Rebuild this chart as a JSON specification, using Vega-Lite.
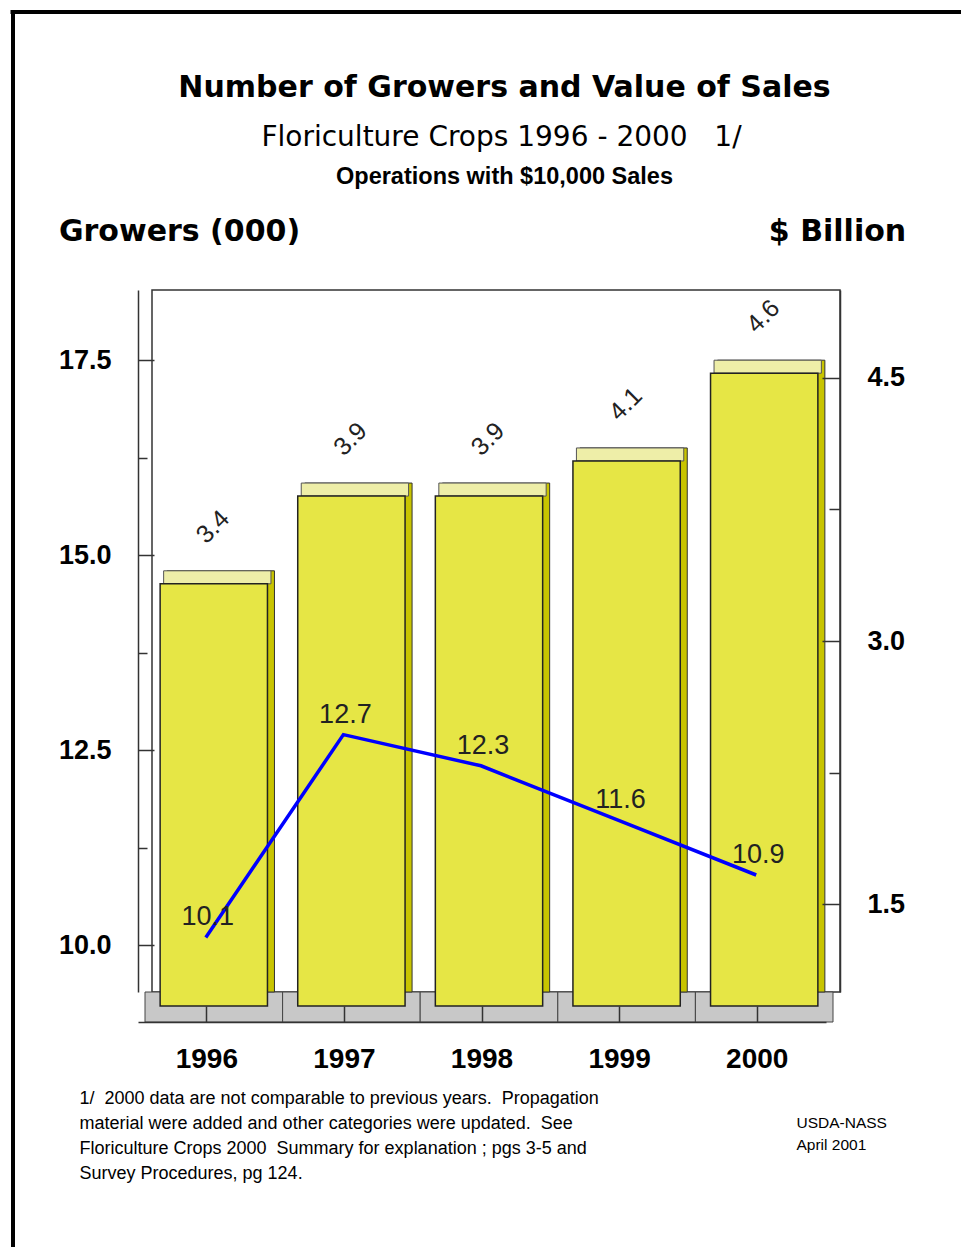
{
  "$schema": "https://vega.github.io/schema/vega-lite/v6.json",
  "width": 688,
  "height": 702,
  "autosize": {"type": "none"},
  "padding": {"left": 152, "top": 290, "right": 121, "bottom": 255},
  "background": "white",
  "config": {
    "view": {"stroke": "#333", "strokeWidth": 1.5},
    "font": "Liberation Sans",
    "axis": {"grid": false}
  },
  "data": {"values": [
    {"year": "1996", "sales": 3.4, "growers": 10.1},
    {"year": "1997", "sales": 3.9, "growers": 12.7},
    {"year": "1998", "sales": 3.9, "growers": 12.3},
    {"year": "1999", "sales": 4.1, "growers": 11.6},
    {"year": "2000", "sales": 4.6, "growers": 10.9}
  ]},
  "resolve": {
    "scale": {"x": "independent", "y": "independent"},
    "axis": {"x": "independent", "y": "independent"}
  },
  "layer": [
    {
      "mark": {"type": "bar", "color": "#C8C8C8", "stroke": "#444", "strokeWidth": 1, "width": {"band": 1}, "xOffset": -7, "y2Offset": 30},
      "encoding": {
        "x": {"field": "year", "type": "ordinal",
          "scale": {"type": "band", "domain": ["1996", "1997", "1998", "1999", "2000"], "paddingInner": 0, "paddingOuter": 0},
          "axis": {"orient": "bottom", "offset": 30, "position": -14, "domain": true, "domainColor": "#333", "domainWidth": 1.5,
            "ticks": true, "tickSize": -16, "tickColor": "#333", "tickWidth": 1.5,
            "labels": true, "labelAngle": 0, "labelFont": "Liberation Sans", "labelFontWeight": "bold", "labelFontSize": 28, "labelColor": "#000", "labelPadding": 39,
            "title": ["1/\u00a0 2000 data are not comparable to previous years.\u00a0 Propagation", "material were added and other categories were updated.\u00a0 See", "Floriculture Crops 2000\u00a0 Summary for explanation ; pgs 3-5 and", "Survey Procedures, pg 124."],
            "titleX": -59, "titleY": 67, "titleAlign": "left", "titleBaseline": "top", "titleFont": "Liberation Sans", "titleFontSize": 18, "titleFontWeight": "normal", "titleLineHeight": 25, "titleColor": "#000", "zindex": 1}},
        "y": {"datum": 1, "type": "quantitative", "scale": {"domain": [1, 5], "nice": false, "zero": false}, "axis": null},
        "y2": {"datum": 1}
      }
    },
    {
      "mark": {"type": "bar", "color": "#C8C400", "stroke": "#333", "strokeWidth": 1, "width": {"band": 0.78}},
      "encoding": {
        "x": {"field": "year", "type": "ordinal",
          "scale": {"type": "band", "domain": ["1996", "1997", "1998", "1999", "2000"], "paddingInner": 0, "paddingOuter": 0},
          "axis": {"orient": "bottom", "domain": false, "ticks": false, "labels": false,
            "title": ["USDA-NASS", "April 2001"], "titleX": 644, "titleY": 123, "titleAlign": "left", "titleBaseline": "top",
            "titleFont": "Liberation Sans", "titleFontSize": 15.5, "titleFontWeight": "normal", "titleLineHeight": 22, "titleColor": "#000"}},
        "y": {"field": "sales", "type": "quantitative", "scale": {"domain": [1, 5], "nice": false, "zero": false},
          "axis": {"orient": "right", "values": [1.5, 2.25, 3, 3.75, 4.5],
            "labelExpr": "datum.value % 1.5 === 0 ? format(datum.value, '.1f') : ''",
            "domain": true, "domainColor": "#333", "domainWidth": 1.5,
            "ticks": true, "tickColor": "#333", "tickWidth": 1.5,
            "tickSize": {"condition": {"test": "datum.value % 1.5 === 0", "value": -18}, "value": -11},
            "labelPadding": 45, "labelFontSize": 27, "labelFontWeight": "bold", "labelColor": "#000",
            "title": "$ Billion", "titleX": -3, "titleY": -59, "titleAngle": 0, "titleAlign": "center", "titleBaseline": "middle",
            "titleFont": "DejaVu Sans", "titleFontSize": 30, "titleFontWeight": "bold", "titleColor": "#000", "zindex": 1}},
        "y2": {"datum": 1}
      }
    },
    {
      "mark": {"type": "bar", "color": "#EEEEA8", "stroke": "#555", "strokeWidth": 1, "width": {"band": 0.78}, "xOffset": -3.5, "y2Offset": 13},
      "encoding": {
        "x": {"field": "year", "type": "ordinal",
          "scale": {"type": "band", "domain": ["1996", "1997", "1998", "1999", "2000"], "paddingInner": 0, "paddingOuter": 0},
          "axis": {"orient": "top", "domain": false, "ticks": false, "labels": false,
            "title": "Number of Growers and Value of Sales", "titleX": 352, "titleY": -203, "titleAlign": "center", "titleBaseline": "middle",
            "titleFont": "DejaVu Sans", "titleFontSize": 30, "titleFontWeight": "bold", "titleColor": "#000"}},
        "y": {"field": "sales", "type": "quantitative", "scale": {"domain": [1, 5], "nice": false, "zero": false}, "axis": null},
        "y2": {"field": "sales"}
      }
    },
    {
      "mark": {"type": "bar", "color": "#E6E645", "stroke": "#222", "strokeWidth": 1.5, "width": {"band": 0.78}, "xOffset": -7, "yOffset": 13, "y2Offset": 14},
      "encoding": {
        "x": {"field": "year", "type": "ordinal",
          "scale": {"type": "band", "domain": ["1996", "1997", "1998", "1999", "2000"], "paddingInner": 0, "paddingOuter": 0},
          "axis": {"orient": "top", "domain": false, "ticks": false, "labels": false,
            "title": "Floriculture Crops 1996 - 2000\u00a0\u00a0\u00a01/", "titleX": 349, "titleY": -153, "titleAlign": "center", "titleBaseline": "middle",
            "titleFont": "DejaVu Sans", "titleFontSize": 28, "titleFontWeight": "normal", "titleColor": "#000"}},
        "y": {"field": "sales", "type": "quantitative", "scale": {"domain": [1, 5], "nice": false, "zero": false}, "axis": null},
        "y2": {"datum": 1}
      }
    },
    {
      "mark": {"type": "text", "angle": 315, "fontSize": 25, "color": "#222", "xOffset": -8, "yOffset": -44, "align": "center", "baseline": "middle"},
      "encoding": {
        "x": {"field": "year", "type": "ordinal",
          "scale": {"type": "band", "domain": ["1996", "1997", "1998", "1999", "2000"], "paddingInner": 0, "paddingOuter": 0},
          "axis": {"orient": "top", "domain": false, "ticks": false, "labels": false,
            "title": "Operations with $10,000 Sales", "titleX": 352, "titleY": -114, "titleAlign": "center", "titleBaseline": "middle",
            "titleFont": "Liberation Sans", "titleFontSize": 23.5, "titleFontWeight": "bold", "titleColor": "#000"}},
        "y": {"field": "sales", "type": "quantitative", "scale": {"domain": [1, 5], "nice": false, "zero": false}, "axis": null},
        "text": {"field": "sales", "type": "quantitative", "format": ".1f"}
      }
    },
    {
      "mark": {"type": "line", "color": "#0000FF", "strokeWidth": 3.5, "xOffset": -15},
      "encoding": {
        "x": {"field": "year", "type": "ordinal",
          "scale": {"type": "band", "domain": ["1996", "1997", "1998", "1999", "2000"], "paddingInner": 0, "paddingOuter": 0},
          "axis": null},
        "y": {"field": "growers", "type": "quantitative", "scale": {"domain": [9.4, 18.4], "nice": false, "zero": false},
          "axis": {"orient": "left", "offset": 14, "values": [10, 11.25, 12.5, 13.75, 15, 16.25, 17.5],
            "labelExpr": "datum.value % 2.5 === 0 ? format(datum.value, '.1f') : ''",
            "domain": true, "domainColor": "#333", "domainWidth": 1.5,
            "ticks": true, "tickColor": "#333", "tickWidth": 1.5,
            "tickSize": {"condition": {"test": "datum.value % 2.5 === 0", "value": -16}, "value": -9},
            "labelPadding": 43, "labelFontSize": 27, "labelFontWeight": "bold", "labelColor": "#000",
            "title": "Growers (000)", "titleX": 41, "titleY": -59, "titleAngle": 0, "titleAlign": "center", "titleBaseline": "middle",
            "titleFont": "DejaVu Sans", "titleFontSize": 30, "titleFontWeight": "bold", "titleColor": "#000", "zindex": 1}}
      }
    },
    {
      "mark": {"type": "text", "fontSize": 27, "color": "#222", "xOffset": -13, "yOffset": -20, "align": "center", "baseline": "middle"},
      "encoding": {
        "x": {"field": "year", "type": "ordinal",
          "scale": {"type": "band", "domain": ["1996", "1997", "1998", "1999", "2000"], "paddingInner": 0, "paddingOuter": 0},
          "axis": null},
        "y": {"field": "growers", "type": "quantitative", "scale": {"domain": [9.4, 18.4], "nice": false, "zero": false}, "axis": null},
        "text": {"field": "growers", "type": "quantitative", "format": ".1f"}
      }
    },
    {
      "mark": {"type": "point", "opacity": 0},
      "encoding": {
        "x": {"field": "year", "type": "ordinal",
          "scale": {"type": "band", "domain": ["1996", "1997", "1998", "1999", "2000"], "range": [-142, 812]},
          "axis": {"orient": "top", "offset": 278.5, "labels": false, "ticks": false, "domain": true, "domainColor": "#000", "domainWidth": 4, "title": null, "zindex": 1}},
        "y": {"field": "sales", "type": "quantitative", "scale": {"domain": [0, 10], "range": [960, -280]},
          "axis": {"orient": "left", "offset": 139.5, "labels": false, "ticks": false, "domain": true, "domainColor": "#000", "domainWidth": 4, "title": null, "zindex": 1}}
      }
    }
  ]
}
